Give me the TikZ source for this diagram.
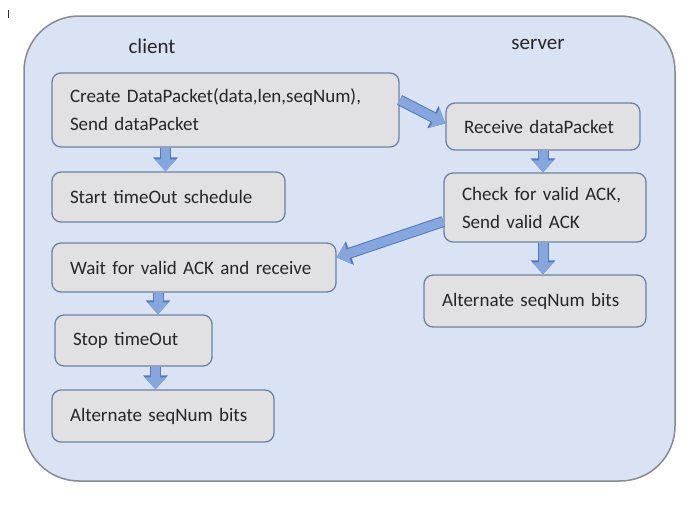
\documentclass[tikz,border=0pt]{standalone}
\usepackage{fontspec}
\setmainfont{Carlito}
\usepackage{tikz}
\usetikzlibrary{arrows.meta}
\definecolor{panelfill}{HTML}{DAE3F3}
\definecolor{panelline}{HTML}{858B95}
\definecolor{boxfill}{HTML}{E1E1E3}
\definecolor{boxline}{HTML}{6C82A4}
\definecolor{arrowfill}{HTML}{86A6DE}
\definecolor{arrowline}{HTML}{5478BC}

\begin{document}
\begin{tikzpicture}[x=1pt,y=-1pt,
  step box/.style={draw=boxline,fill=boxfill,line width=1.3pt,rounded corners=9pt,
    inner xsep=18pt,align=left,font=\fontsize{19}{28}\selectfont,text=black!85},
  fat/.style={line width=9pt,draw=arrowfill,-{Triangle[width=21pt,length=12pt]},
    preaction={draw=arrowline,line width=11pt,-{Triangle[width=24pt,length=14pt]}}},
  side/.style={font=\fontsize{21}{24}\selectfont,text=black!85}]
\useasboundingbox (0,0) rectangle (700,504);
\draw[black!80,line width=1pt] (8,10) -- (8,18);
\draw[panelline,fill=panelfill,line width=1.5pt,rounded corners=55pt] (24,16) rectangle (675,481);
\node[side] (client) at (152,46) {client};
\node[side] (server) at (538,44) {server};
\node[step box,text width=311pt,minimum height=74pt] (create) at (225.5,110)
  {Create DataPacket(data,len,seqNum),\\Send dataPacket};
\node[step box,text width=197pt,minimum height=50pt] (start) at (168.5,197) {Start timeOut schedule};
\node[step box,text width=248pt,minimum height=49pt] (wait) at (194,267.5) {Wait for valid ACK and receive};
\node[step box,text width=121pt,minimum height=51pt] (stop) at (133.5,340.5) {Stop timeOut};
\node[step box,text width=186pt,minimum height=52pt] (alt1) at (163,416) {Alternate seqNum bits};
\node[step box,text width=158pt,minimum height=47pt] (receive) at (543,126.5) {Receive dataPacket};
\node[step box,text width=166pt,minimum height=69pt] (check) at (545,207.5) {Check for valid ACK,\\Send valid ACK};
\node[step box,text width=186pt,minimum height=52pt] (alt2) at (535,301) {Alternate seqNum bits};
\draw[fat] ([xshift=-3pt]create.south -| start.north) -- ([xshift=-3pt]start.north);
\draw[fat] ([xshift=-36pt]wait.south) -- ([xshift=-36pt]wait.south |- stop.north);
\draw[fat] ([xshift=22pt]stop.south) -- ([xshift=22pt]stop.south |- alt1.north);
\draw[fat] (receive.south) -- (receive.south |- check.north);
\draw[fat] ([xshift=-2pt]check.south) -- ([xshift=-2pt]check.south |- alt2.north);
\draw[fat] ([yshift=10pt]create.east) -- ([yshift=3pt]receive.west);
\draw[fat] ([yshift=-14pt]check.west) -- ([yshift=10pt]wait.east);
\end{tikzpicture}
\end{document}
